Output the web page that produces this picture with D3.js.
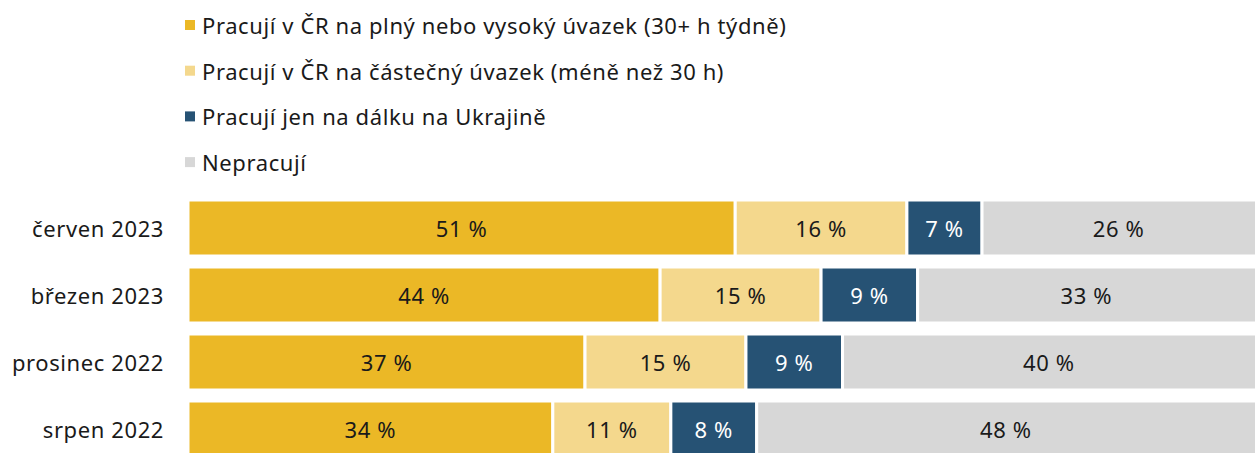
<!DOCTYPE html>
<html>
<head>
<meta charset="utf-8">
<script src="https://cdn.jsdelivr.net/npm/d3@7"></script>
<style>
  body { margin: 0; background: #fff; }
  svg text { font-family: "Noto Sans", sans-serif; letter-spacing: 0.6px; }
</style>
</head>
<body>
<div id="chart"></div>
<script>
var width = 1255, height = 453;

// data
var categories = ['červen 2023', 'březen 2023', 'prosinec 2022', 'srpen 2022'];
var seriesNames = [
  'Pracují v ČR na plný nebo vysoký úvazek (30+ h týdně)',
  'Pracují v ČR na částečný úvazek (méně než 30 h)',
  'Pracují jen na dálku na Ukrajině',
  'Nepracují'
];
var fullTime = [51, 44, 37, 34];
var partTime = [16, 15, 15, 11];
var remote = [7, 9, 9, 8];
var notWorking = [26, 33, 40, 48];
var colors = ['#ebb826', '#f4d88d', '#265274', '#d7d7d7'];
var labelColors = ['#1a1a1a', '#1a1a1a', '#ffffff', '#1a1a1a'];

var series = [fullTime, partTime, remote, notWorking];

var svg = d3.select('#chart').append('svg')
  .attr('width', width)
  .attr('height', height);

var x = d3.scaleLinear().domain([0, 100]).range([188, 1261]);
var y = d3.scaleBand().domain(categories).range([200, 457]).paddingInner(11 / 67).paddingOuter(0);

//legend
var legend = svg.append('g');
seriesNames.forEach(function(name, i){
  var ly = 25 + i * 45.7;
  legend.append('rect')
    .attr('x', 185).attr('y', ly - 5)
    .attr('width', 10).attr('height', 10)
    .attr('fill', colors[i]);
  legend.append('text')
    .attr('x', 202).attr('y', ly)
    .attr('dominant-baseline', 'central')
    .attr('font-size', 22)
    .attr('fill', '#1a1a1a')
    .text(name);
});

//category labels
svg.append('g').selectAll('text')
  .data(categories)
  .enter()
  .append('text')
  .attr('x', 164)
  .attr('y', function(d){ return y(d) + y.bandwidth() / 2; })
  .attr('text-anchor', 'end')
  .attr('dominant-baseline', 'central')
  .attr('font-size', 22)
  .attr('fill', '#1a1a1a')
  .text(function(d){ return d; });

//stacked bars
var rows = categories.map(function(c, ci){
  var x0 = 0;
  return series.map(function(s, si){
    var seg = {cat: c, si: si, v: s[ci], x0: x0, x1: x0 + s[ci]};
    x0 += s[ci];
    return seg;
  });
});

var bars = svg.append('g');
rows.forEach(function(row){
  var g = bars.append('g');
  g.selectAll('rect')
    .data(row)
    .enter()
    .append('rect')
    .attr('x', function(d){ return x(d.x0); })
    .attr('y', function(d){ return y(d.cat); })
    .attr('width', function(d){ return x(d.x1) - x(d.x0); })
    .attr('height', y.bandwidth())
    .attr('fill', function(d){ return colors[d.si]; })
    .attr('stroke', '#fff')
    .attr('stroke-width', 3);
  g.selectAll('text')
    .data(row)
    .enter()
    .append('text')
    .attr('x', function(d){ return (x(d.x0) + Math.min(x(d.x1), width)) / 2; })
    .attr('y', function(d){ return y(d.cat) + y.bandwidth() / 2; })
    .attr('text-anchor', 'middle')
    .attr('dominant-baseline', 'central')
    .attr('font-size', 22)
    .attr('fill', function(d){ return labelColors[d.si]; })
    .text(function(d){ return d.v + ' %'; });
});
</script>
</body>
</html>
